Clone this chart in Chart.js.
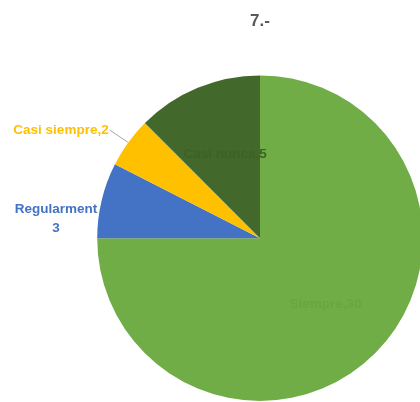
<!DOCTYPE html>
<html>
<head>
<meta charset="utf-8">
<script src="https://cdn.jsdelivr.net/npm/chart.js@4.4.0/dist/chart.umd.min.js"></script>
<style>
  html, body { margin: 0; padding: 0; background: #fff; }
  #wrap { width: 420px; height: 402px; overflow: hidden; position: relative; }
  #wrap canvas { position: absolute; left: 0; top: 0; }
</style>
</head>
<body>
<div id="wrap"><canvas id="pieChart" width="440" height="402"></canvas></div>
<script>
// Data (slices run clockwise from 12 o'clock)
const categories = ['Siempre', 'Regularmente', 'Casi siempre', 'Casi nunca'];
const answers = [30, 3, 2, 5];
const sliceColors = ['#70AD47', '#4472C4', '#FFC000', '#43682B'];
const labelColors = ['#6aa543', '#4472C4', '#FFC000', '#3e6128'];

// where each label goes: inside the slice, or outside with centred text
const labelStyle = [
    { inside: true, r: 0.57 },
    { inside: false, lines: ['Regularment', '3'], x: 56, y: 209 },
    { inside: false, lines: ['Casi siempre,2'], x: 61, y: 130, leader: true },
    { inside: true, r: 0.56 }
];

const sliceLabels = {
    id: 'sliceLabels',
    afterDatasetsDraw(chart) {
        const ctx = chart.ctx;
        const meta = chart.getDatasetMeta(0);
        ctx.save();
        ctx.font = 'bold 13.5px "Liberation Sans", Arial, sans-serif';
        ctx.textBaseline = 'middle';
        meta.data.forEach((arc, i) => {
            const p = arc.getProps(['x', 'y', 'startAngle', 'endAngle', 'outerRadius']);
            const mid = (p.startAngle + p.endAngle) / 2;
            const st = labelStyle[i];
            ctx.fillStyle = labelColors[i];
            if (st.inside) {
                const tx = p.x + Math.cos(mid) * p.outerRadius * st.r;
                const ty = p.y + Math.sin(mid) * p.outerRadius * st.r;
                ctx.textAlign = 'center';
                ctx.fillText(categories[i] + ',' + answers[i], tx, ty);
                return;
            }
            if (st.leader) {
                const ex = p.x + Math.cos(mid) * p.outerRadius;
                const ey = p.y + Math.sin(mid) * p.outerRadius;
                const w = ctx.measureText(st.lines[0]).width;
                ctx.strokeStyle = '#a6a6a6';
                ctx.lineWidth = 1;
                ctx.beginPath();
                ctx.moveTo(ex, ey);
                ctx.lineTo(st.x + w / 2 + 1, st.y);
                ctx.stroke();
            }
            ctx.textAlign = 'center';
            st.lines.forEach((line, k) => {
                ctx.fillText(line, st.x, st.y + k * 19);
            });
        });
        ctx.restore();
    }
};

const ctxPie = document.getElementById('pieChart').getContext('2d');

new Chart(ctxPie, {
    type: 'pie',
    data: {
        labels: categories,
        datasets: [{
            data: answers,
            backgroundColor: sliceColors,
            borderWidth: 0
        }]
    },
    options: {
        responsive: false,
        animation: false,
        layout: {
            padding: { left: 97, right: 17, top: 0, bottom: 1 }
        },
        plugins: {
            legend: { display: false },
            tooltip: { enabled: false },
            title: {
                display: true,
                text: '7.-',
                color: '#595959',
                font: { size: 17, weight: 'bold', family: '"Liberation Sans", Arial, sans-serif' },
                padding: { top: 11, bottom: 44 }
            }
        }
    },
    plugins: [sliceLabels]
});
</script>
</body>
</html>
